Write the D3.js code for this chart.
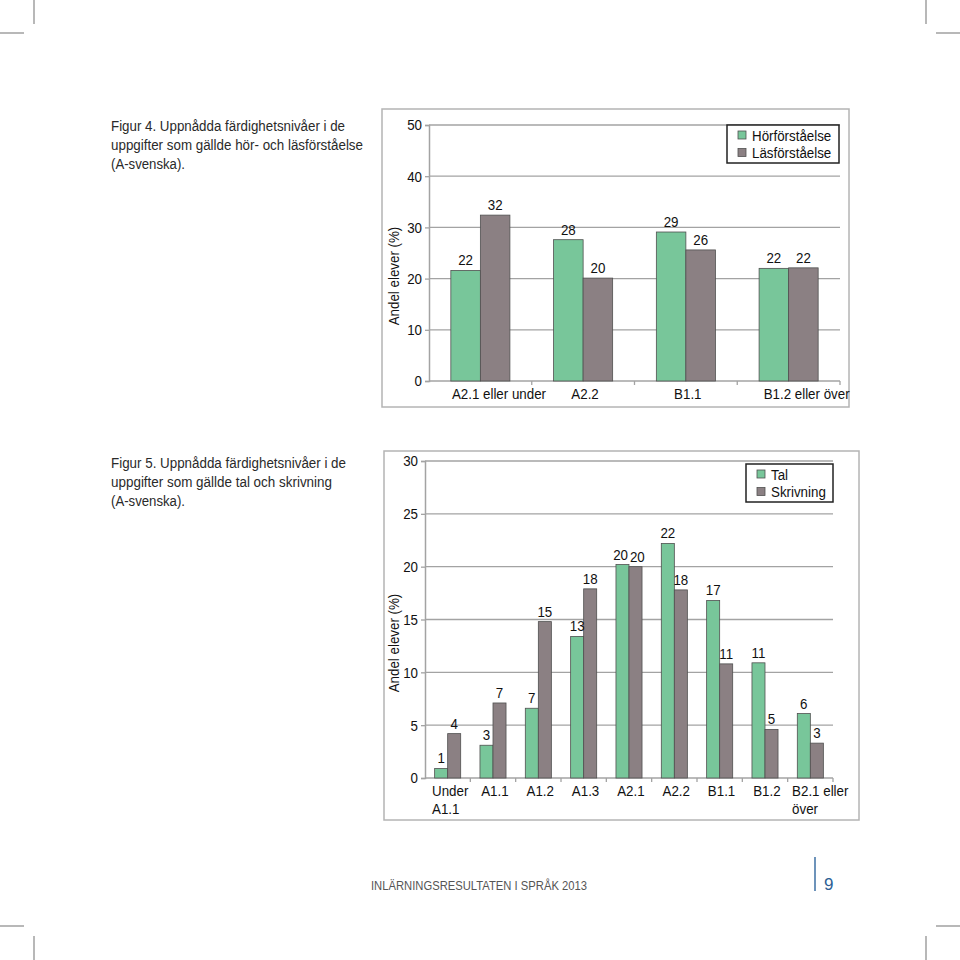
<!DOCTYPE html>
<html lang="sv">
<head>
<meta charset="utf-8"/>
<title>Figur 4 och 5</title>
<script src="https://cdn.jsdelivr.net/npm/d3@7"></script>
<style>
  body { margin: 0; background: #fff; }
  svg { display: block; }
  text { font-family: "Liberation Sans", Arial, sans-serif; }
</style>
</head>
<body>
<svg id="page" width="960" height="960"></svg>
<script>
// Figur 4
const fig4Categories = [["A2.1 eller under"], ["A2.2"], ["B1.1"], ["B1.2 eller över"]];
const fig4Series = ["Hörförståelse", "Läsförståelse"];
const fig4Hor = [21.6, 27.6, 29.1, 22.0];
const fig4Las = [32.4, 20.1, 25.6, 22.1];
const fig4Ticks = [0, 10, 20, 30, 40, 50];

// Figur 5
const fig5Categories = [["Under", "A1.1"], ["A1.1"], ["A1.2"], ["A1.3"], ["A2.1"], ["A2.2"], ["B1.1"], ["B1.2"], ["B2.1 eller", "över"]];
const fig5Series = ["Tal", "Skrivning"];
const fig5Tal = [0.9, 3.1, 6.6, 13.4, 20.2, 22.2, 16.8, 10.9, 6.1];
const fig5Skriv = [4.2, 7.1, 14.8, 17.9, 20.0, 17.8, 10.8, 4.6, 3.3];
const fig5Ticks = [0, 5, 10, 15, 20, 25, 30];

const colors = ["#78c69a", "#8b8083"];
const FS = 15.5, SQUEEZE = 0.86;
const svg = d3.select("#page");

// narrow the glyphs a bit, the original uses a condensed face
function condense(sel) {
  sel.each(function () {
    const w = this.getComputedTextLength();
    d3.select(this).attr("textLength", w * SQUEEZE).attr("lengthAdjust", "spacingAndGlyphs");
  });
  return sel;
}

// crop marks
const marks = [[34, 0, 34, 24], [0, 33, 24, 33], [926, 0, 926, 24], [936, 33, 960, 33],
               [34, 936, 34, 960], [0, 926, 24, 926], [926, 936, 926, 960], [936, 926, 960, 926]];
svg.append("g").selectAll("line").data(marks).enter().append("line")
  .attr("x1", d => d[0]).attr("y1", d => d[1]).attr("x2", d => d[2]).attr("y2", d => d[3])
  .attr("stroke", "#a0a0a0").attr("stroke-width", 1.5);

function caption(lines, x, y0, widths) {
  const g = svg.append("g");
  lines.forEach((t, i) => {
    g.append("text").attr("x", x).attr("y", y0 + i * 19)
      .attr("font-size", 15.5).attr("fill", "#2a2a2a")
      .attr("textLength", widths[i]).attr("lengthAdjust", "spacingAndGlyphs")
      .text(t);
  });
}

caption(["Figur 4. Uppnådda färdighetsnivåer i de", "uppgifter som gällde hör- och läsförståelse", "(A-svenska)."],
  111, 131, [234, 252, 74]);
caption(["Figur 5. Uppnådda färdighetsnivåer i de", "uppgifter som gällde tal och skrivning", "(A-svenska)."],
  111, 468, [235, 221, 74]);

function drawChart(o) {
  const g = svg.append("g");

  // frame
  g.append("rect").attr("x", o.box[0]).attr("y", o.box[1])
    .attr("width", o.box[2] - o.box[0]).attr("height", o.box[3] - o.box[1])
    .attr("fill", "#fff").attr("stroke", "#b4b4b4").attr("stroke-width", 1.5);

  const x0 = d3.scaleBand().domain(d3.range(o.categories.length)).range([o.left, o.right]);
  const x1 = d3.scaleBand().domain([0, 1]).range([0, x0.bandwidth()]).paddingOuter(0.74);
  const y = d3.scaleLinear().domain([0, d3.max(o.ticks)]).range([o.bottom, o.top]);

  // grid
  g.append("g").selectAll("line").data(o.ticks.slice(1)).enter().append("line")
    .attr("x1", o.left).attr("x2", o.right)
    .attr("y1", d => y(d)).attr("y2", d => y(d))
    .attr("stroke", "#a3a3a3").attr("stroke-width", 1.3);

  // y axis
  const ya = g.append("g").attr("transform", `translate(${o.left},0)`)
    .call(d3.axisLeft(y).tickValues(o.ticks).tickSize(4).tickPadding(3));
  ya.select(".domain").attr("stroke", "#a3a3a3").attr("stroke-width", 1.5);
  ya.selectAll(".tick line").attr("stroke", "#a3a3a3").attr("stroke-width", 1.3);
  ya.selectAll(".tick text").attr("font-size", FS).attr("fill", "#111")
    .attr("font-family", "Liberation Sans, Arial, sans-serif");
  condense(ya.selectAll(".tick text"));

  // x axis line and ticks
  g.append("line").attr("x1", o.left).attr("x2", o.right)
    .attr("y1", o.bottom).attr("y2", o.bottom)
    .attr("stroke", "#a3a3a3").attr("stroke-width", 1.5);
  g.append("g").selectAll("line").data(d3.range(1, o.categories.length + 1)).enter().append("line")
    .attr("x1", d => o.left + d * x0.bandwidth()).attr("x2", d => o.left + d * x0.bandwidth())
    .attr("y1", o.bottom).attr("y2", o.bottom + 4)
    .attr("stroke", "#a3a3a3").attr("stroke-width", 1.3);

  // bars
  const rows = o.categories.map((c, i) => [o.a[i], o.b[i]]);
  const fmt = d3.format(".0f");
  const grp = g.append("g").selectAll("g").data(rows).enter().append("g")
    .attr("transform", (d, i) => `translate(${x0(i)},0)`);
  grp.selectAll("rect").data(d => d).enter().append("rect")
    .attr("x", (d, j) => x1(j)).attr("width", x1.bandwidth())
    .attr("y", d => y(d)).attr("height", d => o.bottom - y(d))
    .attr("fill", (d, j) => colors[j]).attr("stroke", "#505050").attr("stroke-width", 0.8);
  grp.each(function () {
    const labels = condense(d3.select(this).selectAll("text").data(d => d).enter().append("text")
      .attr("x", (d, j) => x1(j) + x1.bandwidth() / 2).attr("y", d => y(d) - 5)
      .attr("text-anchor", "middle").attr("font-size", FS).attr("fill", "#111")
      .text(d => fmt(d)));
    // push the two labels apart when they would touch
    const n = labels.nodes();
    const wa = n[0].getComputedTextLength() * SQUEEZE, wb = n[1].getComputedTextLength() * SQUEEZE;
    const need = (wa + wb) / 2 + 4 - x1.step();
    const close = Math.abs(+n[0].getAttribute("y") - +n[1].getAttribute("y")) < FS;
    if (need > 0 && close) {
      d3.select(n[0]).attr("dx", -need / 2);
      d3.select(n[1]).attr("dx", need / 2);
    }
  });

  // category labels (lines share the left edge of the first line)
  o.categories.forEach((lines, i) => {
    const cx = x0(i) + x0.bandwidth() / 2 + (lines[0].length > 8 ? o.shift : 0);
    const t = g.append("text").attr("font-size", FS).attr("fill", "#111");
    const spans = lines.map((l, k) => t.append("tspan").attr("y", o.bottom + 18 + 18 * k).text(l));
    spans.forEach(s => condense(s));
    const w = spans[0].node().getComputedTextLength() * SQUEEZE;
    spans.forEach(s => s.attr("x", cx - w / 2));
  });

  // axis title
  condense(g.append("text")
    .attr("transform", `translate(${o.titleX},${o.titleY}) rotate(-90)`)
    .attr("text-anchor", "middle").attr("font-size", FS).attr("fill", "#111")
    .text("Andel elever (%)"));

  // legend
  const L = o.legend;
  const lg = g.append("g");
  lg.append("rect").attr("x", L[0]).attr("y", L[1]).attr("width", L[2]).attr("height", L[3])
    .attr("fill", "#fff").attr("stroke", "#222").attr("stroke-width", 1.5);
  o.series.forEach((s, j) => {
    lg.append("rect").attr("x", L[0] + 11).attr("y", L[1] + 6 + j * 17.5)
      .attr("width", 8).attr("height", 8)
      .attr("fill", colors[j]).attr("stroke", "#505050").attr("stroke-width", 0.8);
    condense(lg.append("text").attr("x", L[0] + 25).attr("y", L[1] + 15.5 + j * 17.5)
      .attr("font-size", FS).attr("fill", "#111").text(s));
  });
}

drawChart({
  categories: fig4Categories, series: fig4Series, a: fig4Hor, b: fig4Las, ticks: fig4Ticks,
  box: [382, 109, 849, 407], left: 429, right: 840, top: 125, bottom: 381, shift: 12,
  titleX: 399, titleY: 276, legend: [727, 125, 112, 38]
});

drawChart({
  categories: fig5Categories, series: fig5Series, a: fig5Tal, b: fig5Skriv, ticks: fig5Ticks,
  box: [384, 451, 859, 820], left: 425, right: 833, top: 461, bottom: 778, shift: 6,
  titleX: 399, titleY: 643, legend: [746, 464, 87, 38]
});

// footer
svg.append("text").attr("x", 371).attr("y", 890)
  .attr("font-family", "Open Sans, sans-serif").attr("font-size", 13).attr("fill", "#555")
  .attr("textLength", 216).attr("lengthAdjust", "spacingAndGlyphs")
  .text("INLÄRNINGSRESULTATEN I SPRÅK 2013");
svg.append("line").attr("x1", 815).attr("x2", 815).attr("y1", 857).attr("y2", 891)
  .attr("stroke", "#3d6fa3").attr("stroke-width", 1.5);
svg.append("text").attr("x", 824).attr("y", 890)
  .attr("font-family", "Open Sans, sans-serif").attr("font-size", 17).attr("fill", "#2d5f94")
  .text("9");
</script>
</body>
</html>
